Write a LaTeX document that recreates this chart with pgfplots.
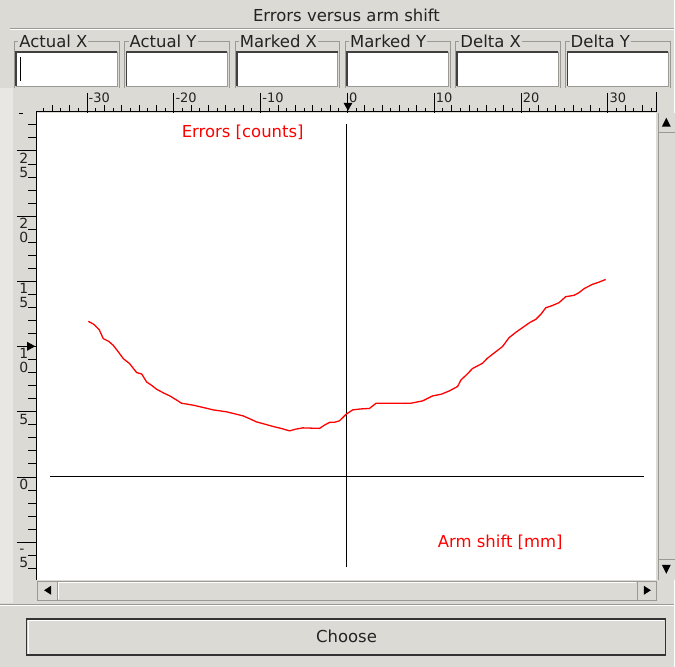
\documentclass[border=0pt]{standalone}
\usepackage{pgfplots}
\pgfplotsset{compat=1.18}
\usepackage{fontspec}
\setmainfont{DejaVu Sans}
\definecolor{guibg}{RGB}{220,218,213}
\definecolor{guilight}{RGB}{232,231,228}
\definecolor{guidark}{RGB}{155,153,148}
\definecolor{guitext}{RGB}{35,35,35}
\newcommand\guifont{\fontsize{16.5}{20}\selectfont}
\newcommand\rulerfont{\fontsize{13}{13}\selectfont}
\newcommand\yrulerfont{\fontsize{14}{13}\selectfont}
\newcommand\stk[2]{\begin{tabular}{@{}l@{}}#1\\[-0.5pt]#2\end{tabular}}
\newcommand\one[1]{\begin{tabular}{@{}l@{}}#1\end{tabular}}
\begin{document}
\begin{tikzpicture}
\begin{scope}[x=1pt,y=-1pt]
\path[use as bounding box] (0,0) rectangle (675,668);
\clip (0,0) rectangle (675,668);
\fill[guibg] (0,0) rectangle (675,668);
\fill[guilight] (0,88) rectangle (13,604);
% title
\node[font=\guifont, text=guitext] at (347,15) {Errors versus arm shift};
\draw[guidark] (10,28.5) -- (675,28.5);
\draw[white] (10,29.5) -- (675,29.5);
% field groups
\foreach \i/\lab in {0/Actual X,1/Actual Y,2/Marked X,3/Marked Y,4/Delta X,5/Delta Y}{
  \pgfmathsetmacro\xa{14+110.5*\i}
  \pgfmathsetmacro\xb{\xa+105}
  \draw[guidark] (\xa,88) -- (\xa,41) -- (\xb,41) -- (\xb,88);
  \node[font=\guifont,text=guitext,anchor=west,inner sep=1pt,fill=guibg] at (\xa+4,41) {\lab};
  \fill[white] (\xa+2,52) rectangle (\xa+103,86);
  \draw[guidark] (\xa+103,52) -- (\xa+103,86) -- (\xa+2,86);
  \draw[black!75, line width=1.6pt] (\xa+2,86) -- (\xa+2,52) -- (\xa+103,52);
}
\draw[black, line width=1pt] (20.5,57) -- (20.5,81);
% plot area
\fill[white] (37,113) rectangle (657,581);
\end{scope}

\begin{axis}[
  at={(37pt,-113pt)}, anchor=north west,
  scale only axis, width=620pt, height=465pt,
  xmin=-35.75, xmax=35.52, ymin=-7.65, ymax=27.93,
  axis x line*=top, axis y line*=left,
  axis line style={draw=none},
  tick align=outside,
  major tick length=20pt,
  tick style={black, line width=1pt},
  xtick={-30,-20,...,30}, minor x tick num=0,
  ytick={-5,0,...,25}, minor y tick num=0,
  yticklabels={\stk{-}{5},\one{0},\one{5},\stk{1}{0},\stk{1}{5},\stk{2}{0},\stk{2}{5}},
  /pgf/number format/assume math mode=true,
  xticklabel style={font=\rulerfont, text=guitext, anchor=north west, inner sep=1pt, xshift=0.5pt, yshift=1pt},
  yticklabel style={font=\yrulerfont, text=guitext, anchor=north west, inner sep=1pt, xshift=1pt, yshift=-1pt},
  clip=false,
]
\addplot[black, line width=1.2pt] coordinates {(-0.1,-6.9) (-0.1,27.05)};
\addplot[black, line width=1.2pt] coordinates {(-34.25,0.04) (34.1,0.04)};
\addplot[red, line width=1.3pt] coordinates {
(-29.85,11.94) (-29.2,11.7) (-28.6,11.3) (-28.13,10.61) (-27.5,10.4) (-26.98,10.10)
(-26.4,9.6) (-25.83,9.08) (-25.1,8.7) (-24.29,8.01) (-23.7,7.9) (-23.14,7.29)
(-22.6,7.05) (-21.99,6.73) (-21.2,6.45) (-20.46,6.22) (-19.8,5.95) (-19.11,5.66)
(-17.78,5.51) (-16.6,5.33) (-15.48,5.15) (-13.94,5.00) (-13.0,4.85) (-12.03,4.69)
(-11.2,4.45) (-10.49,4.23) (-9.5,4.05) (-8.59,3.88) (-7.6,3.72) (-6.67,3.54)
(-5.9,3.68) (-5.14,3.77) (-4.2,3.75) (-3.22,3.73) (-2.6,4.0) (-2.07,4.19)
(-1.5,4.2) (-0.92,4.31) (-0.15,4.82) (0.61,5.15) (1.5,5.22) (2.53,5.26)
(3.30,5.66) (5.3,5.66) (7.32,5.66) (8.66,5.84) (9.80,6.22) (10.8,6.35)
(11.72,6.60) (12.68,6.94) (13.07,7.44) (13.8,7.9) (14.40,8.32) (15.55,8.72)
(16.1,9.1) (16.70,9.41) (17.85,10.00) (18.62,10.69) (19.4,11.1) (20.15,11.45)
(21.0,11.85) (21.69,12.09) (22.3,12.5) (22.84,12.98) (23.6,13.15) (24.37,13.37)
(25.14,13.83) (26.09,13.93) (26.7,14.15) (27.24,14.44) (28.20,14.77) (29.0,14.95) (29.74,15.15)
};
\node[red, font=\guifont] at (axis cs:-12.07,26.4) {Errors [counts]};
\node[red, font=\guifont] at (axis cs:17.6,-4.97) {Arm shift [mm]};
\end{axis}

\begin{scope}[x=1pt,y=-1pt]
% ruler baselines and small ticks
\draw[black, line width=1.5pt] (36,111.8) -- (658.5,111.8);
\draw[black, line width=1.5pt] (36.2,111) -- (36.2,581);
\draw[black, line width=1pt] (658,92) -- (658,112);
\foreach \k in {-35,...,35}{
  \pgfmathtruncatemacro\m{mod(abs(\k),10)}
  \pgfmathtruncatemacro\e{mod(abs(\k),2)}
  \ifnum\m=0\relax\else
    \ifnum\e=0\relax
      \draw[black, line width=1pt] ({348+8.6993*\k},111.5) -- ++(0,-6);
    \else
      \draw[black, line width=1pt] ({348+8.6993*\k},111.5) -- ++(0,-3);
    \fi
  \fi
}
\foreach \k in {-7,...,27}{
  \pgfmathtruncatemacro\m{mod(abs(\k),5)}
  \ifnum\m=0\relax\else
    \draw[black, line width=1pt] (36,{478.0-13.069*\k}) -- ++(-8,0);
  \fi
}
\draw[black, line width=1pt] (19,114) -- (23,114);
% pointers on rulers
\draw[black, line width=1pt] (348.5,96) -- (348.5,104);
\fill[black] (344,103) -- (353,103) -- (348.5,111) -- cycle;
\draw[black, line width=1pt] (17,347) -- (28,347);
\fill[black] (27,342.5) -- (27,351.5) -- (35,347) -- cycle;
% vertical scrollbar
\fill[guibg] (659,113) rectangle (676,581);
\draw[guidark] (659.5,113) -- (659.5,581);
\draw[guidark] (660,132.5) -- (676,132.5);
\draw[guidark] (660,560.5) -- (676,560.5);
\fill[black] (663,127) -- (672,127) -- (667.5,118) -- cycle;
\fill[black] (663,566) -- (672,566) -- (667.5,575) -- cycle;
% horizontal scrollbar
\fill[guibg] (37,582) rectangle (658,602);
\draw[guidark] (37.5,582.5) rectangle (657.5,601.5);
\draw[guidark] (57.5,582.5) -- (57.5,601.5);
\draw[guidark] (638.5,582.5) -- (638.5,601.5);
\draw[white] (58.5,600.5) -- (58.5,583.5) -- (637.5,583.5);
\fill[black] (51,587) -- (51,596) -- (44,591.5) -- cycle;
\fill[black] (645,587) -- (645,596) -- (652,591.5) -- cycle;
% separator
\draw[guidark] (0,605.5) -- (675,605.5);
\draw[white] (0,606.5) -- (675,606.5);
% button
\draw[white, line width=1pt] (28,655) -- (28,622) -- (665,622);
\draw[black!80, line width=1.5pt] (26.5,620.5) rectangle (666.5,656.5);
\node[font=\guifont, text=guitext] at (347,638) {Choose};
\end{scope}
\end{tikzpicture}
\end{document}
